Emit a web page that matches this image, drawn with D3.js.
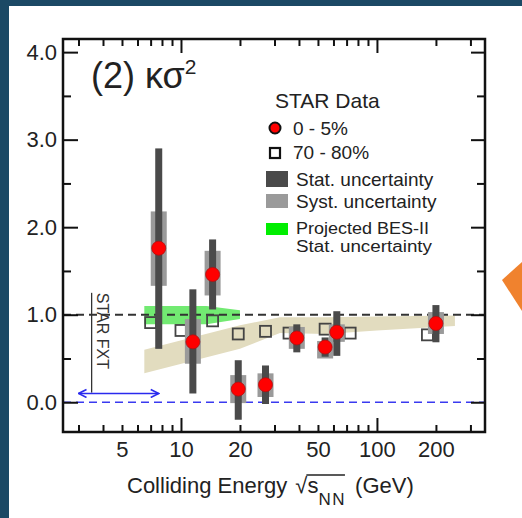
<!doctype html>
<html>
<head>
<meta charset="UTF-8" />
<title>kappa sigma^2 vs colliding energy</title>
<script src="https://d3js.org/d3.v7.min.js"></script>
<style>
  html, body { margin: 0; padding: 0; background: #1b4965; }
  svg { display: block; }
</style>
</head>
<body>
<div id="chart"></div>
<script>
// ---- data ----
// 0-5% central (red circles)
const energy   = [7.7, 11.5, 14.5, 19.6, 27, 39, 54.4, 62.4, 200];
const central  = [1.76, 0.69, 1.46, 0.15, 0.20, 0.735, 0.63, 0.80, 0.90];
const statLow  = [0.61, 0.10, 1.06, -0.20, -0.02, 0.57, 0.52, 0.53, 0.685];
const statHigh = [2.90, 1.29, 1.86, 0.48, 0.42, 0.89, 0.74, 1.04, 1.11];
const sysLow   = [1.33, 0.44, 1.22, -0.01, 0.06, 0.61, 0.50, 0.69, 0.78];
const sysHigh  = [2.18, 0.95, 1.73, 0.31, 0.33, 0.86, 0.70, 0.89, 1.03];

// 70-80% peripheral (open squares)
const periEnergy = [7.0, 10.0, 14.5, 19.6, 27, 35.6, 54.4, 73, 181];
const periValue  = [0.91, 0.82, 0.93, 0.78, 0.81, 0.79, 0.835, 0.79, 0.77];

// projected BES-II band (green)
const besEnergy = [6.5, 13.5, 20];
const besLow    = [0.89, 0.89, 0.95];
const besHigh   = [1.10, 1.10, 1.05];

// model band (tan)
const bandEnergy = [6.5, 20, 32, 55, 100, 250];
const bandLow    = [0.33, 0.61, 0.79, 0.78, 0.82, 0.87];
const bandHigh   = [0.60, 0.88, 0.97, 0.97, 0.98, 0.99];

// STAR FXT marker
const fxtArrow = [3.0, 7.7];
const fxtLineEnergy = 3.5;
const fxtLineRange = [0.11, 1.25];

// axis ticks
const yMajor = [0, 1, 2, 3, 4];
const yMinor = [0.5, 1.5, 2.5, 3.5];
const xLabelled = [5, 10, 20, 50, 100, 200];
const xMajor = [10, 100];
const xMinor = [3, 4, 5, 6, 7, 8, 9, 20, 30, 40, 50, 60, 70, 80, 90, 200, 300];

// ---- layout ----
const W = 522, H = 518;
const pLeft = 63, pTop = 39, pRight = 485, pBottom = 432;
const font = "'Liberation Sans', Arial, sans-serif";
const ink = "#222";

const x = d3.scaleLog().domain([2.5, 356]).range([pLeft, pRight]);
const y = d3.scaleLinear().domain([-0.34, 4.15]).range([pBottom, pTop]);

const svg = d3.select("#chart").append("svg")
    .attr("width", W)
    .attr("height", H)
    .style("font-family", font);

// slide background + white panel
svg.append("rect").attr("width", W).attr("height", H).attr("fill", "#1b4965");
svg.append("rect").attr("x", 9).attr("y", 6).attr("width", W - 9).attr("height", H - 6).attr("fill", "#fff");
svg.append("polygon").attr("points", "502,280 522,262 522,311").attr("fill", "#f0822e");

const plot = svg.append("g");

// bands
const area = (xs, lo, hi) => d3.area()
    .x((d, i) => x(xs[i]))
    .y0((d, i) => y(lo[i]))
    .y1((d, i) => y(hi[i]))(xs);

plot.append("path").attr("d", area(bandEnergy, bandLow, bandHigh)).attr("fill", "#e2dcbf");
plot.append("path").attr("d", area(besEnergy, besLow, besHigh)).attr("fill", "#72ea72");

// reference lines
plot.append("line")
    .attr("x1", pLeft).attr("x2", pRight).attr("y1", y(1)).attr("y2", y(1))
    .attr("stroke", "#333").attr("stroke-width", 2).attr("stroke-dasharray", "8,5");
plot.append("line")
    .attr("x1", pLeft).attr("x2", pRight).attr("y1", y(0)).attr("y2", y(0))
    .attr("stroke", "#3a3af0").attr("stroke-width", 1.5).attr("stroke-dasharray", "8,5");

// STAR FXT
plot.append("line")
    .attr("x1", x(fxtLineEnergy)).attr("x2", x(fxtLineEnergy))
    .attr("y1", y(fxtLineRange[0])).attr("y2", y(fxtLineRange[1]))
    .attr("stroke", "#333").attr("stroke-width", 1.3);
plot.append("text")
    .attr("transform", `translate(${x(fxtLineEnergy) + 5},${y(fxtLineRange[1])}) rotate(90)`)
    .attr("font-size", 16).attr("fill", "#333")
    .text("STAR FXT");

const defs = svg.append("defs");
defs.append("marker").attr("id", "head")
    .attr("viewBox", "0 0 10 10").attr("refX", 9).attr("refY", 5)
    .attr("markerWidth", 10).attr("markerHeight", 10).attr("orient", "auto-start-reverse")
    .attr("markerUnits", "userSpaceOnUse")
  .append("path").attr("d", "M1,1 L9,5 L1,9")
    .attr("fill", "none").attr("stroke", "#2a2aee").attr("stroke-width", 1.6);

plot.append("line")
    .attr("x1", x(fxtArrow[0])).attr("x2", x(fxtArrow[1]))
    .attr("y1", y(0.1)).attr("y2", y(0.1))
    .attr("stroke", "#2a2aee").attr("stroke-width", 1.6)
    .attr("marker-start", "url(#head)").attr("marker-end", "url(#head)");

// peripheral squares
plot.selectAll("rect.peri").data(periEnergy).join("rect")
    .attr("class", "peri")
    .attr("x", d => x(d) - 5.5)
    .attr("y", (d, i) => y(periValue[i]) - 5.5)
    .attr("width", 11).attr("height", 11)
    .attr("fill", "none").attr("stroke", "#444").attr("stroke-width", 1.8);

// systematic boxes
plot.selectAll("rect.sys").data(energy).join("rect")
    .attr("class", "sys")
    .attr("x", d => x(d) - 8)
    .attr("y", (d, i) => y(sysHigh[i]))
    .attr("width", 16)
    .attr("height", (d, i) => y(sysLow[i]) - y(sysHigh[i]))
    .attr("fill", "#9a9a9a");

// statistical bars
plot.selectAll("rect.stat").data(energy).join("rect")
    .attr("class", "stat")
    .attr("x", d => x(d) - 3.5)
    .attr("y", (d, i) => y(statHigh[i]))
    .attr("width", 7)
    .attr("height", (d, i) => y(statLow[i]) - y(statHigh[i]))
    .attr("fill", "#4a4a4a");

// central points
plot.selectAll("circle.central").data(energy).join("circle")
    .attr("class", "central")
    .attr("cx", d => x(d))
    .attr("cy", (d, i) => y(central[i]))
    .attr("r", 7)
    .attr("fill", "#ff0000").attr("stroke", "#b01010").attr("stroke-width", 0.8);

// ---- axes ----
function clean(g) {
  g.select(".domain").remove();
  g.selectAll(".tick line").attr("stroke", "#111").attr("stroke-width", 2);
  g.selectAll(".tick text").attr("font-size", 22).attr("fill", ink).style("font-family", font);
}

svg.append("g").attr("transform", `translate(${pLeft},0)`)
    .call(d3.axisLeft(y).tickValues(yMajor).tickSize(-15).tickPadding(6).tickFormat(d3.format(".1f")))
    .call(clean);
svg.append("g").attr("transform", `translate(${pLeft},0)`)
    .call(d3.axisLeft(y).tickValues(yMinor).tickSize(-8).tickFormat(""))
    .call(clean);
svg.append("g").attr("transform", `translate(${pRight},0)`)
    .call(d3.axisRight(y).tickValues(yMajor).tickSize(-14).tickFormat(""))
    .call(clean);
svg.append("g").attr("transform", `translate(${pRight},0)`)
    .call(d3.axisRight(y).tickValues(yMinor).tickSize(-8).tickFormat(""))
    .call(clean);

svg.append("g").attr("transform", `translate(0,${pBottom})`)
    .call(d3.axisBottom(x).tickValues(xMajor).tickSize(-14).tickFormat(""))
    .call(clean);
svg.append("g").attr("transform", `translate(0,${pBottom})`)
    .call(d3.axisBottom(x).tickValues(xMinor).tickSize(-7).tickFormat(""))
    .call(clean);
svg.append("g").attr("transform", `translate(0,${pBottom})`)
    .call(d3.axisBottom(x).tickValues(xLabelled).tickSize(0).tickPadding(9).tickFormat(d3.format("d")))
    .call(clean);
svg.append("g").attr("transform", `translate(0,${pTop})`)
    .call(d3.axisTop(x).tickValues(xMajor).tickSize(-14).tickFormat(""))
    .call(clean);
svg.append("g").attr("transform", `translate(0,${pTop})`)
    .call(d3.axisTop(x).tickValues(xMinor).tickSize(-7).tickFormat(""))
    .call(clean);

// frame
svg.append("rect")
    .attr("x", pLeft).attr("y", pTop)
    .attr("width", pRight - pLeft).attr("height", pBottom - pTop)
    .attr("fill", "none").attr("stroke", "#111").attr("stroke-width", 2.5);

// title
const title = svg.append("text").attr("x", 91).attr("y", 88)
    .attr("font-size", 36).attr("fill", ink);
title.append("tspan").text("(2) κσ");
title.append("tspan").attr("font-size", 21).attr("dy", -14).text("2");

// x axis label
const xl = svg.append("text").attr("x", 127).attr("y", 493)
    .attr("font-size", 22).attr("fill", ink);
xl.append("tspan").text("Colliding Energy ");
xl.append("tspan").attr("dx", 2).text("√");
xl.append("tspan").text("s");
xl.append("tspan").attr("font-size", 17).attr("letter-spacing", 1.5).attr("dy", 12).text("NN");
xl.append("tspan").attr("dy", -12).attr("dx", 3).text(" (GeV)");
{
  const el = xl.node();
  const r = el.getExtentOfChar(17);
  const end = el.getEndPositionOfChar(20);
  svg.append("line")
      .attr("x1", r.x + r.width - 1).attr("x2", end.x - 1)
      .attr("y1", r.y + 2).attr("y2", r.y + 2)
      .attr("stroke", ink).attr("stroke-width", 1.3);
}

// legend
const lg = svg.append("g");
lg.append("text").attr("x", 275).attr("y", 108).attr("font-size", 21).attr("fill", ink).text("STAR Data");
lg.append("circle").attr("cx", 275).attr("cy", 128).attr("r", 5.5)
    .attr("fill", "#ff0000").attr("stroke", "#111").attr("stroke-width", 2);
lg.append("text").attr("x", 293).attr("y", 135).attr("font-size", 19).attr("fill", ink).text("0 - 5%");
lg.append("rect").attr("x", 270).attr("y", 148).attr("width", 10).attr("height", 10)
    .attr("fill", "#fff").attr("stroke", "#111").attr("stroke-width", 2.2);
lg.append("text").attr("x", 293).attr("y", 159).attr("font-size", 19).attr("fill", ink).text("70 - 80%");
lg.append("rect").attr("x", 266).attr("y", 171).attr("width", 22).attr("height", 16).attr("fill", "#4a4a4a");
lg.append("text").attr("x", 296).attr("y", 186).attr("font-size", 19).attr("fill", ink).text("Stat. uncertainty");
lg.append("rect").attr("x", 266).attr("y", 194).attr("width", 22).attr("height", 14).attr("fill", "#9a9a9a");
lg.append("text").attr("x", 296).attr("y", 208).attr("font-size", 19).attr("fill", ink).text("Syst. uncertainty");
lg.append("rect").attr("x", 266).attr("y", 223).attr("width", 22).attr("height", 12).attr("fill", "#00ee00");
lg.append("text").attr("x", 296).attr("y", 234).attr("font-size", 16).attr("fill", ink)
    .attr("textLength", 133).attr("lengthAdjust", "spacingAndGlyphs").text("Projected BES-II");
lg.append("text").attr("x", 296).attr("y", 252).attr("font-size", 16).attr("fill", ink)
    .attr("textLength", 136).attr("lengthAdjust", "spacingAndGlyphs").text("Stat. uncertainty");
</script>
</body>
</html>
